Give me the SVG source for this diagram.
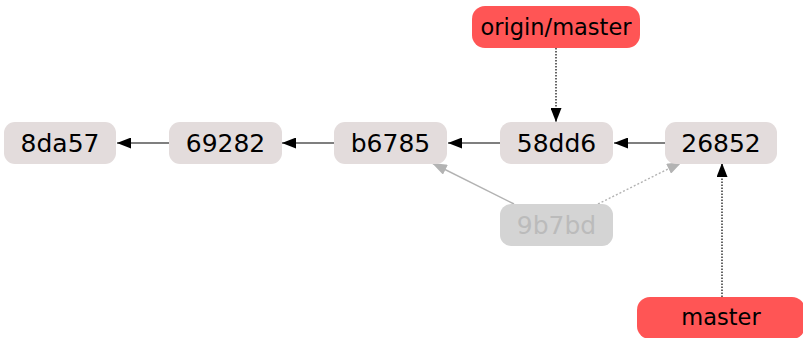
<svg xmlns="http://www.w3.org/2000/svg" width="803" height="338" viewBox="0 0 803 338">
<style>
.commit rect{fill:#e3dcdc}
.ghost rect{fill:#d4d4d4}
.ref rect{fill:#ff5555}
text{font-family:"DejaVu Sans",sans-serif;text-anchor:middle;dominant-baseline:central}
.commit text{font-size:25px;fill:#000}
.ghost text{font-size:25px;fill:#bbbbbb}
.ref text{font-size:22.5px;fill:#000}
.e{stroke:#000;stroke-width:1.2;fill:none}
.d{stroke:#000;stroke-width:1.2;fill:none;stroke-dasharray:1.5,1.5}
.g{stroke:#b3b3b3;stroke-width:1.4;fill:none}
.gd{stroke:#b3b3b3;stroke-width:1.4;fill:none;stroke-dasharray:2,2}
</style>
<defs>
<marker id="ab" viewBox="0 0 14 11" refX="14" refY="5.5" markerWidth="14" markerHeight="11" markerUnits="userSpaceOnUse" orient="auto"><path d="M0,0 L14,5.5 L0,11 Z" fill="#000"/></marker>
<marker id="ag" viewBox="0 0 15 11" refX="15" refY="5.5" markerWidth="15" markerHeight="11" markerUnits="userSpaceOnUse" orient="auto"><path d="M0,0 L15,5.5 L0,11 Z" fill="#b3b3b3"/></marker>
</defs>
<g id="connectors">
<line class="e" x1="169" y1="143" x2="117" y2="143" marker-end="url(#ab)"/>
<line class="e" x1="334" y1="143" x2="282" y2="143" marker-end="url(#ab)"/>
<line class="e" x1="500" y1="143" x2="448" y2="143" marker-end="url(#ab)"/>
<line class="e" x1="665" y1="143" x2="614" y2="143" marker-end="url(#ab)"/>
<line class="d" x1="556" y1="48" x2="556" y2="122" marker-end="url(#ab)"/>
<line class="d" x1="722" y1="297" x2="722" y2="163" marker-end="url(#ab)"/>
<line class="g" x1="514" y1="204" x2="432" y2="163" marker-end="url(#ag)"/>
<line class="gd" x1="598" y1="204" x2="682" y2="162" marker-end="url(#ag)"/>
</g>
<g id="n8da57" class="commit"><rect x="4" y="122" width="112" height="42" rx="11"/><text x="60" y="143">8da57</text></g>
<g id="n69282" class="commit"><rect x="169" y="122" width="113" height="42" rx="11"/><text x="225.5" y="143">69282</text></g>
<g id="nb6785" class="commit"><rect x="334" y="122" width="113" height="42" rx="11"/><text x="390.5" y="143">b6785</text></g>
<g id="n58dd6" class="commit"><rect x="500" y="122" width="113" height="42" rx="11"/><text x="556.5" y="143">58dd6</text></g>
<g id="n26852" class="commit"><rect x="665" y="122" width="112" height="42" rx="11"/><text x="721" y="143">26852</text></g>
<g id="n9b7bd" class="ghost"><rect x="500" y="204" width="113" height="42" rx="11"/><text x="556.5" y="225">9b7bd</text></g>
<g id="origin-master" class="ref"><rect x="472" y="6" width="168" height="42" rx="13"/><text x="556" y="27">origin/master</text></g>
<g id="master" class="ref"><rect x="637" y="297" width="168" height="42" rx="13"/><text x="721" y="317">master</text></g>
</svg>
